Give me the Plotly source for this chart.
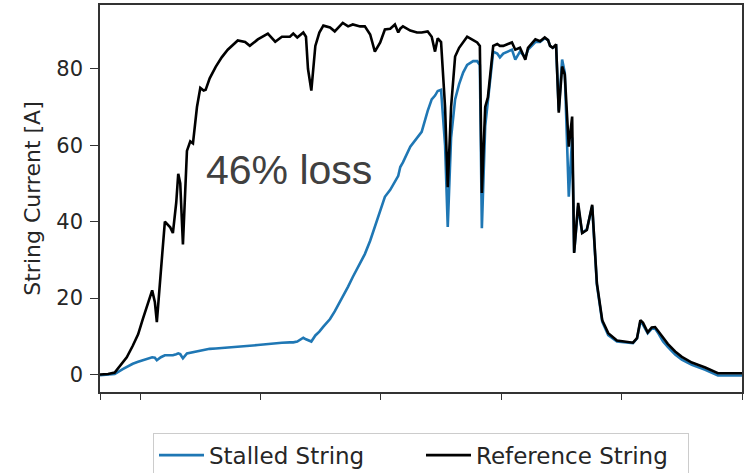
import plotly.graph_objects as go

# ---- data ----
times = ["05:00","05:12","05:22","05:34","05:40","05:49","05:57","06:04","06:12","06:18",
         "06:22","06:25","06:31","06:37","06:45","06:49","06:54","06:57","07:00","07:04",
         "07:10","07:15","07:19","07:25","07:30","07:35","07:38","07:44","07:53","08:02",
         "08:11","08:17","08:26","08:37","08:44","08:56","09:11","09:22","09:32","09:44",
         "09:49","09:55","10:04","10:08","10:11","10:16","10:22","10:28","10:34","10:44",
         "10:51","11:03","11:11","11:18","11:29","11:36","11:44","11:51","11:59","12:06",
         "12:14","12:21","12:26","12:29","12:33","12:44","12:54","13:01","13:10","13:16",
         "13:21","13:25","13:30","13:36","13:40","13:45","13:51","13:57","14:03","14:09",
         "14:18","14:24","14:28","14:31","14:36","14:40","14:48","14:54","14:58","15:03",
         "15:10","15:16","15:21","15:28","15:36","15:40","15:51","15:58","16:05","16:10",
         "16:13","16:17","16:22","16:26","16:31","16:35","16:41","16:46","16:49","16:55",
         "17:01","17:08","17:16","17:20","17:23","17:31","17:40","17:53","18:08","18:17",
         "18:23","18:28","18:32","18:36","18:39","18:45","18:50","18:54","19:02","19:09",
         "19:20","19:30","19:45","20:05","20:24","21:00"]

reference_string = [0.0,0.1,0.5,3.0,4.5,7.5,10.5,14.5,18.5,22.0,
                    19.0,13.7,27.0,40.0,38.5,37.0,45.0,52.5,50.0,34.0,
                    58.5,61.0,60.5,70.0,75.0,74.3,74.5,77.5,80.5,83.0,
                    85.0,86.0,87.4,87.0,86.0,87.7,89.2,87.1,88.4,88.4,
                    89.2,88.2,89.5,88.4,80.0,74.3,86.0,89.5,91.3,90.8,
                    89.8,92.0,91.1,91.6,91.1,91.1,89.0,84.5,86.9,90.3,
                    90.5,91.6,89.5,90.5,91.1,90.0,89.5,89.5,89.8,88.4,
                    84.5,88.0,87.0,70.0,49.0,70.0,83.2,85.5,87.0,88.4,
                    87.5,86.9,86.0,47.5,70.0,72.5,86.0,86.5,86.0,86.0,
                    86.5,86.9,85.0,85.5,82.4,85.5,87.7,87.2,88.2,87.5,
                    86.0,85.5,86.4,68.5,80.6,78.5,59.6,67.5,31.8,44.9,
                    37.0,37.8,44.4,33.0,23.9,14.2,10.8,8.9,8.6,8.3,
                    9.5,14.2,13.5,12.0,11.0,12.3,12.4,11.5,9.5,8.0,
                    6.0,4.6,3.1,1.8,0.3,0.3]

stalled_string = [-0.2,-0.1,0.1,1.4,2.0,2.8,3.3,3.7,4.1,4.5,
                  4.4,3.7,4.5,5.0,5.0,5.0,5.3,5.5,5.3,4.2,
                  5.5,5.7,5.9,6.1,6.3,6.5,6.6,6.7,6.8,6.9,
                  7.0,7.1,7.2,7.4,7.5,7.7,8.0,8.1,8.3,8.4,
                  8.4,8.6,9.6,9.2,8.9,8.6,10.2,11.2,12.5,14.5,
                  16.5,20.2,23.0,25.5,29.0,31.5,35.0,38.6,43.0,46.5,
                  48.3,50.4,52.0,54.3,55.5,59.6,62.0,63.5,69.0,72.0,
                  73.0,74.2,74.5,60.0,38.6,62.0,72.0,76.0,79.0,81.0,
                  82.0,82.0,81.0,38.3,65.0,71.5,84.5,84.0,83.0,84.0,
                  84.5,85.0,82.4,84.5,83.0,85.0,87.0,87.0,88.0,87.5,
                  86.0,85.5,86.0,69.0,82.4,79.0,46.5,62.0,32.0,44.0,
                  37.0,38.0,44.0,32.0,23.5,13.8,10.3,8.6,8.4,8.2,
                  9.4,13.8,13.0,11.5,10.8,12.0,12.0,11.0,8.6,7.2,
                  5.2,3.9,2.5,1.2,-0.3,-0.3]

x_tick_hours = [5, 6, 9, 12, 15, 18, 21]
y_ticks = [0, 20, 40, 60, 80]
annotation_text = "46% loss"

hours = [int(t[:2]) + int(t[3:]) / 60 for t in times]

fig = go.Figure()
fig.add_trace(go.Scatter(x=hours, y=stalled_string, mode="lines", name="Stalled String",
                         line=dict(color="#1f77b4", width=2.6)))
fig.add_trace(go.Scatter(x=hours, y=reference_string, mode="lines", name="Reference String",
                         line=dict(color="#000000", width=2.6)))

fig.add_annotation(x=9.72, y=53.5, xref="x", yref="y", text=annotation_text, showarrow=False,
                   font=dict(family="Liberation Sans, Arial", size=41, color="#404040"))

axis_common = dict(showline=True, linecolor="#333333", linewidth=1.5, mirror=True,
                   ticks="outside", tickcolor="#333333", tickwidth=1.3,
                   showgrid=False, zeroline=False)

fig.update_layout(
    width=746, height=473,
    margin=dict(l=100, r=4, t=5, b=81, autoexpand=False),
    paper_bgcolor="white", plot_bgcolor="white",
    font=dict(family="DejaVu Sans", color="#262626"),
    xaxis=dict(range=[5, 21], tickvals=x_tick_hours, showticklabels=False, ticklen=6,
               **axis_common),
    yaxis=dict(range=[-4.6, 96.7], tickvals=y_ticks, ticklen=8, ticklabelstandoff=3,
               tickfont=dict(size=21, color="#262626"),
               title=dict(text="String Current [A]", font=dict(size=22, color="#262626"),
                          standoff=10),
               **axis_common),
    legend=dict(orientation="h", x=0.5, xanchor="center", y=-0.105, yanchor="top",
                bordercolor="#cccccc", borderwidth=1, bgcolor="white",
                font=dict(size=23, color="#262626"), itemwidth=45,
                entrywidth=207, tracegroupgap=0),
    showlegend=True,
)

fig.write_html("out.html")
